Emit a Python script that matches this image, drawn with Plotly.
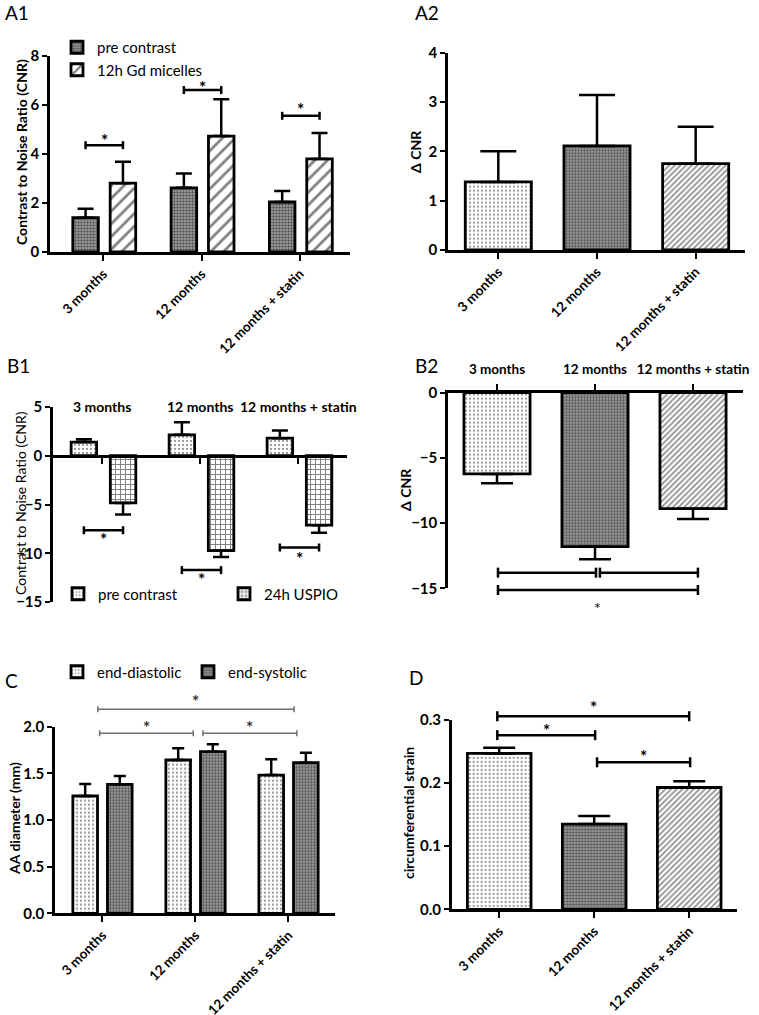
import plotly.graph_objects as go

W, H = 759, 1015
FONT = "Lato"

# ---------------- data ----------------
categories = ["3 months", "12 months", "12 months + statin"]

# A1: CNR pre contrast vs 12h Gd micelles
a1_pre = [1.40, 2.62, 2.04]
a1_pre_sem = [0.37, 0.58, 0.45]
a1_gd = [2.81, 4.73, 3.80]
a1_gd_sem = [0.87, 1.50, 1.06]
a1_sig_y = [4.36, 6.61, 5.56]
a1_star_y = [4.73, 6.86, 5.96]

# A2: delta CNR
a2_delta = [1.38, 2.11, 1.75]
a2_sem = [0.62, 1.03, 0.75]

# B1: CNR pre contrast vs 24h USPIO
b1_pre = [1.40, 2.15, 1.80]
b1_pre_sem = [0.30, 1.29, 0.79]
b1_uspio = [-4.84, -9.74, -7.12]
b1_uspio_sem = [1.19, 0.65, 0.78]
b1_sig_y = [-7.64, -11.73, -9.41]
b1_star_y = [-8.18, -12.30, -10.10]

# B2: delta CNR
b2_delta = [-6.23, -11.81, -8.89]
b2_sem = [0.72, 0.97, 0.80]
b2_sig = [(0, 1, -13.80), (1, 2, -13.80), (0, 2, -15.13)]
b2_star_y = -16.15

# C: AA diameter (mm)
c_ed = [1.257, 1.643, 1.482]
c_ed_sem = [0.129, 0.125, 0.168]
c_es = [1.382, 1.732, 1.614]
c_es_sem = [0.089, 0.079, 0.107]
c_sig = [(0, 2, 2.186), (0, 1, 1.93), (1, 2, 1.93)]
c_star_y = [2.31, 2.03, 2.03]

# D: circumferential strain
d_strain = [0.247, 0.135, 0.193]
d_sem = [0.009, 0.013, 0.010]
d_sig = [(0, 2, 0.306), (0, 1, 0.276), (1, 2, 0.233)]
d_star_y = [0.326, 0.290, 0.249]

# ---------------- layout geometry (pixels) ----------------
P = {
    "A1": dict(ax="x", ay="y", x0=50, x1=350, yt=56, yb=252, xr=[-0.542, 2.51], yr=[0, 8]),
    "A2": dict(ax="x2", ay="y2", x0=448, x1=745, yt=52.7, yb=250, xr=[-0.51, 2.50], yr=[0, 4]),
    "B1": dict(ax="x3", ay="y3", x0=53, x1=347, yt=407, yb=602, xr=[-0.50, 2.50], yr=[-15, 5]),
    "B2": dict(ax="x4", ay="y4", x0=448, x1=743, yt=392.7, yb=588.3, xr=[-0.50, 2.51], yr=[-15, 0]),
    "C": dict(ax="x5", ay="y5", x0=55, x1=335, yt=726.7, yb=913.3, xr=[-0.51, 2.50], yr=[0, 2]),
    "D": dict(ax="x6", ay="y6", x0=451.7, x1=736.7, yt=720, yb=909.3, xr=[-0.50, 2.50], yr=[0, 0.3]),
}


def fx(px):
    return px / W


def fy(px):
    return 1 - px / H


def cat_px(p, c):
    g = P[p]
    return g["x0"] + (c - g["xr"][0]) / (g["xr"][1] - g["xr"][0]) * (g["x1"] - g["x0"])


def val_px(p, v):
    g = P[p]
    return g["yb"] - (v - g["yr"][0]) / (g["yr"][1] - g["yr"][0]) * (g["yb"] - g["yt"])


PAT_DOTS = dict(shape=".", fgcolor="#333333", bgcolor="white", size=4, solidity=0.25)
PAT_CHECK = dict(shape=".", fgcolor="#000000", bgcolor="#a8a8a8", size=3, solidity=0.5)
PAT_WIDE = dict(shape="/", fgcolor="black", bgcolor="white", size=9, solidity=0.3)
PAT_FINE = dict(shape="/", fgcolor="#222222", bgcolor="white", size=4, solidity=0.45)
PAT_GRID = dict(shape="+", fgcolor="black", bgcolor="white", size=5, solidity=0.35)


def bar(panel, y, sem, pattern, name, width, offset, up=True, cap=8, legend=None):
    g = P[panel]
    zeros = [0] * len(sem)
    err = dict(type="data", symmetric=False,
               array=sem if up else zeros, arrayminus=zeros if up else sem,
               color="black", thickness=2.5, width=cap)
    return go.Bar(x=categories, y=y, name=name, width=width, offset=offset,
                  marker=dict(color="white", pattern=pattern, line=dict(color="black", width=2.8)),
                  error_y=err, xaxis=g["ax"], yaxis=g["ay"],
                  showlegend=legend is not None, legend=legend or "legend",
                  hoverinfo="skip")


fig = go.Figure()

# A1
A1_W, A1_OFF = 0.26, (-0.31, 0.07)
fig.add_trace(bar("A1", a1_pre, a1_pre_sem, PAT_CHECK, "pre contrast", A1_W, A1_OFF[0], cap=8, legend="legend"))
fig.add_trace(bar("A1", a1_gd, a1_gd_sem, PAT_WIDE, "12h Gd micelles", A1_W, A1_OFF[1], cap=8, legend="legend"))
# A2 (one bar per category, each with own pattern)
A2_PATS = [PAT_DOTS, PAT_CHECK, PAT_FINE]
for i, cat in enumerate(categories):
    t = bar("A2", [a2_delta[i]], [a2_sem[i]], A2_PATS[i], cat, 0.67, -0.335, cap=18)
    t.x = [cat]
    fig.add_trace(t)
# B1
B1_W, B1_OFF = 0.26, (-0.315, 0.085)
fig.add_trace(bar("B1", b1_pre, b1_pre_sem, PAT_DOTS, "pre contrast", B1_W, B1_OFF[0], cap=8, legend="legend2"))
fig.add_trace(bar("B1", b1_uspio, b1_uspio_sem, PAT_GRID, "24h USPIO", B1_W, B1_OFF[1], up=False, cap=8, legend="legend2"))
# B2
for i, cat in enumerate(categories):
    t = bar("B2", [b2_delta[i]], [b2_sem[i]], A2_PATS[i], cat, 0.675, -0.3375, up=False, cap=16)
    t.x = [cat]
    fig.add_trace(t)
# C
C_W, C_OFF = 0.265, (-0.318, 0.054)
fig.add_trace(bar("C", c_ed, c_ed_sem, PAT_DOTS, "end-diastolic", C_W, C_OFF[0], cap=6, legend="legend3"))
fig.add_trace(bar("C", c_es, c_es_sem, PAT_CHECK, "end-systolic", C_W, C_OFF[1], cap=6, legend="legend3"))
# D
for i, cat in enumerate(categories):
    t = bar("D", [d_strain[i]], [d_sem[i]], A2_PATS[i], cat, 0.67, -0.335, cap=16)
    t.x = [cat]
    fig.add_trace(t)

# ---------------- axes ----------------
tickfont_b = dict(family=FONT, size=15, color="black", weight="bold")
xtickfont = dict(family=FONT, size=13.5, color="black", weight="bold")
layout_axes = {}
ytick_specs = {
    "A1": dict(tickvals=[0, 2, 4, 6, 8]),
    "A2": dict(tickvals=[0, 1, 2, 3, 4]),
    "B1": dict(tickvals=[-15, -10, -5, 0, 5]),
    "B2": dict(tickvals=[-15, -10, -5, 0]),
    "C": dict(tickvals=[0, 0.5, 1.0, 1.5, 2.0], tickformat=".1f"),
    "D": dict(tickvals=[0, 0.1, 0.2, 0.3], tickformat=".1f"),
}
for name, g in P.items():
    xk = "xaxis" + g["ax"][1:]
    yk = "yaxis" + g["ay"][1:]
    xa = dict(domain=[fx(g["x0"]), fx(g["x1"])], range=g["xr"], type="category",
              categoryorder="array", categoryarray=categories,
              showline=True, linewidth=2.5, linecolor="black", ticks="outside",
              ticklen=6, tickwidth=2, tickcolor="black", showgrid=False, zeroline=False,
              tickangle=-45, tickfont=xtickfont, anchor=g["ay"], automargin=False, fixedrange=True)
    ya = dict(domain=[fy(g["yb"]), fy(g["yt"])], range=g["yr"], showline=True, linewidth=2.5,
              linecolor="black", ticks="outside", ticklen=5, tickwidth=2, tickcolor="black",
              showgrid=False, zeroline=False, tickfont=tickfont_b, anchor=g["ax"],
              automargin=False, fixedrange=True, **ytick_specs[name])
    if name == "B1":
        xa.update(anchor="free", position=fy(val_px("B1", 0)), showticklabels=False)
    if name == "B2":
        xa.update(side="top", tickangle=0, ticklabelstandoff=5,
                  tickfont=dict(family=FONT, size=13.5, color="black", weight="bold"))
    layout_axes[xk] = xa
    layout_axes[yk] = ya

fig.update_layout(**layout_axes)

# ---------------- brackets & stars ----------------
shapes = []
annotations = []


def bracket(panel, c0, c1, v, tick, color="black", lw=2.5):
    x0, x1, y = cat_px(panel, c0), cat_px(panel, c1), val_px(panel, v)
    line = dict(color=color, width=lw)
    out = [dict(type="line", xref="paper", yref="paper", x0=fx(x0), x1=fx(x1),
                y0=fy(y), y1=fy(y), line=line)]
    for xx in (x0, x1):
        out.append(dict(type="line", xref="paper", yref="paper", x0=fx(xx), x1=fx(xx),
                        y0=fy(y - tick), y1=fy(y + tick), line=line))
    return out


def star(panel, c, v, size=17, bold=True, color="black", shift=4):
    return dict(xref="paper", yref="paper", x=fx(cat_px(panel, c)), y=fy(val_px(panel, v) + shift),
                text="*", showarrow=False, xanchor="center", yanchor="middle",
                font=dict(family=FONT, size=size, color=color, weight="bold" if bold else "normal"))


# A1 / B1: within-group brackets between bar centres
for i in range(3):
    c0 = i + A1_OFF[0] + A1_W / 2
    c1 = i + A1_OFF[1] + A1_W / 2
    shapes += bracket("A1", c0, c1, a1_sig_y[i], 4)
    annotations.append(star("A1", (c0 + c1) / 2, a1_star_y[i]))
    c0 = i + B1_OFF[0] + B1_W / 2
    c1 = i + B1_OFF[1] + B1_W / 2
    shapes += bracket("B1", c0, c1, b1_sig_y[i], 4)
    annotations.append(star("B1", (c0 + c1) / 2, b1_star_y[i]))

# B2
B2_NUDGE = [(0.01, 0.01), (0.05, 0.05), (0.01, 0.05)]
for (a, b, v), (n0, n1) in zip(b2_sig, B2_NUDGE):
    shapes += bracket("B2", a + n0, b + n1, v, 5)
annotations.append(star("B2", 1.03, b2_star_y, size=16, bold=False))

# C
C_NUDGE = [(-0.05, 0.06), (-0.03, -0.024), (0.08, 0.09)]
for (a, b, v), (n0, n1), sy in zip(c_sig, C_NUDGE, c_star_y):
    shapes += bracket("C", a + n0, b + n1, v, 3, color="#6e6e6e", lw=1.5)
    annotations.append(star("C", (a + n0 + b + n1) / 2, sy, color="#333333"))

# D
D_NUDGE = [(-0.02, 0.0), (-0.02, 0.01), (0.03, 0.01)]
for (a, b, v), (n0, n1), sy in zip(d_sig, D_NUDGE, d_star_y):
    shapes += bracket("D", a + n0, b + n1, v, 5)
    annotations.append(star("D", (a + n0 + b + n1) / 2, sy))

# B1 category labels on top
for i, cat in enumerate(categories):
    annotations.append(dict(xref="paper", yref="paper", x=fx(cat_px("B1", i)), y=fy(406),
                            text=cat, showarrow=False, xanchor="center", yanchor="middle",
                            font=dict(family=FONT, size=14, color="black", weight="bold")))

# panel labels
for lab, px, py in [("A1", 3, 13), ("A2", 413, 12), ("B1", 5, 365), ("B2", 413, 365),
                    ("C", 3, 680), ("D", 407, 677)]:
    annotations.append(dict(xref="paper", yref="paper", x=fx(px), y=fy(py), text=lab,
                            showarrow=False, xanchor="left", yanchor="middle",
                            font=dict(family=FONT, size=19, color="black")))

# y-axis titles
for txt, px, py, bold in [("Contrast to Noise Ratio (CNR)", 22, 152, True),
                          ("Δ CNR", 416, 152, True),
                          ("Contrast to Noise Ratio (CNR)", 20, 503, False),
                          ("Δ CNR", 405, 490, True),
                          ("AA diameter (mm)", 14, 819, True),
                          ("circumferential strain", 408, 813, True)]:
    annotations.append(dict(xref="paper", yref="paper", x=fx(px), y=fy(py), text=txt,
                            textangle=-90, showarrow=False, xanchor="center", yanchor="middle",
                            font=dict(family=FONT, size=14, color="black",
                                      weight="bold" if bold else "normal")))

leg_common = dict(bgcolor="rgba(0,0,0,0)", font=dict(family=FONT, size=15, color="black"),
                  xanchor="left", itemclick=False, itemdoubleclick=False)
fig.update_layout(
    width=W, height=H, margin=dict(l=0, r=0, t=0, b=0),
    paper_bgcolor="white", plot_bgcolor="white", barmode="overlay",
    shapes=shapes, annotations=annotations,
    legend=dict(x=fx(57), y=fy(31), yanchor="top", tracegroupgap=0, **leg_common),
    legend2=dict(x=fx(58), y=fy(594), yanchor="middle", orientation="h",
                 entrywidth=121, entrywidthmode="pixels", **leg_common),
    legend3=dict(x=fx(57), y=fy(672), yanchor="middle", orientation="h",
                 entrywidth=86, entrywidthmode="pixels", **leg_common),
    font=dict(family=FONT, color="black"),
)

# remove the default 8px page margin so the figure fills the window exactly
fig.write_html("out.html", config={"displayModeBar": False},
               post_script="document.body.style.margin='0';document.body.style.overflow='hidden';")
